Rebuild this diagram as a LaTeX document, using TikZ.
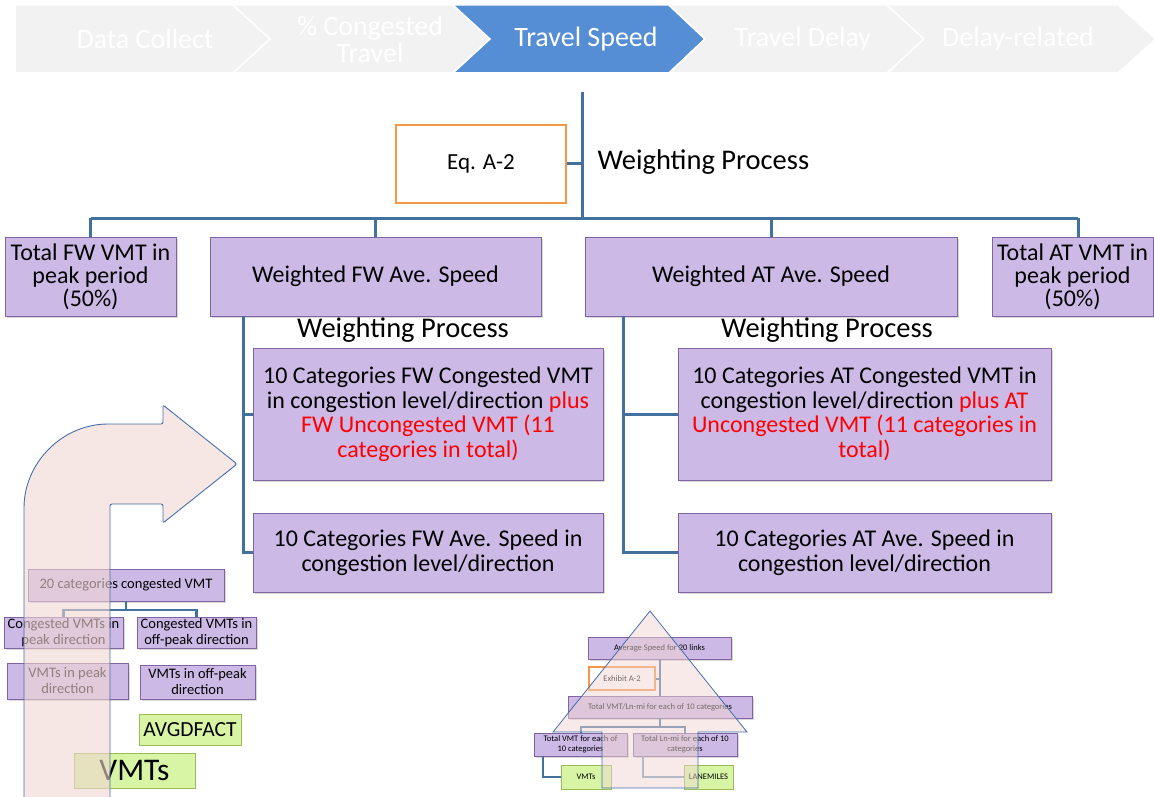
\documentclass[tikz,border=0pt]{standalone}
\usepackage{fontspec}
\setmainfont{Carlito}
\usetikzlibrary{shadows}
\definecolor{boxfill}{RGB}{204,185,230}
\definecolor{boxdraw}{RGB}{128,100,162}
\definecolor{lineblue}{RGB}{65,113,156}
\definecolor{chevgray}{RGB}{242,242,242}
\definecolor{chevblue}{RGB}{85,142,213}
\definecolor{orangeb}{RGB}{247,150,70}
\definecolor{greenfill}{RGB}{215,245,165}
\definecolor{greendraw}{RGB}{155,187,89}
\definecolor{arrowfill}{RGB}{240,214,210}
\definecolor{arrowline}{RGB}{70,110,170}
\tikzset{
  pbox/.style={draw=boxdraw, fill=boxfill, line width=0.8pt, align=center, inner sep=0pt,
    drop shadow={shadow xshift=1.5pt, shadow yshift=-1.5pt, opacity=0.3}},
  bigtxt/.style={font=\fontsize{24}{24.5}\selectfont},
  smalltxt/.style={font=\fontsize{14.5}{16}\selectfont},
  tinytxt/.style={font=\fontsize{8.5}{9.5}\selectfont},
  gbox/.style={draw=greendraw, fill=greenfill, line width=0.8pt, align=center, inner sep=0pt,
    drop shadow={shadow xshift=1pt, shadow yshift=-1pt, opacity=0.25}},
  obox/.style={draw=orangeb, fill=white, line width=2.5pt, align=center, inner sep=0pt},
  conn/.style={draw=lineblue, line width=3pt},
  sconn/.style={draw=lineblue, line width=2.5pt},
  tconn/.style={draw=lineblue, line width=2pt},
  chev/.style={fill=chevgray, draw=white, line width=1.5pt},
  chevtxt/.style={text=white, font=\fontsize{28}{27}\selectfont, align=center},
  wptxt/.style={font=\fontsize{28.5}{30}\selectfont},
  bigarrow/.style={fill=arrowfill, fill opacity=0.6, draw=none},
  arrowedge/.style={draw=arrowline, line width=0.9pt}
}
\begin{document}
\begin{tikzpicture}[x=1pt,y=-1pt]
\useasboundingbox (0,0) rectangle (1154,797);
% ---------- chevrons ----------
\path[chev] (15,5) -- (233,5) -- (270,39) -- (233,73) -- (15,73) -- cycle;
\path[chev] (233,5) -- (453,5) -- (490,39) -- (453,73) -- (233,73) -- (270,39) -- cycle;
\path[chev, fill=chevblue] (453,5) -- (669,5) -- (705,39) -- (669,73) -- (453,73) -- (490,39) -- cycle;
\path[chev] (669,5) -- (887,5) -- (924,39) -- (887,73) -- (669,73) -- (705,39) -- cycle;
\path[chev] (887,5) -- (1118,5) -- (1156,39) -- (1118,73) -- (887,73) -- (924,39) -- cycle;
\node[chevtxt] (ch1) at (145,39) {Data Collect};
\node[chevtxt] (ch2) at (370,39) {\% Congested\\Travel};
\node[chevtxt] (ch3) at (586,39) {Travel Speed};
\node[chevtxt] (ch4) at (803,39) {Travel Delay};
\node[chevtxt] (ch5) at (1018,39) {Delay-related};
% ---------- top level ----------
\coordinate (top) at (582,92);
\coordinate (hub) at (582,218);
\node[obox, minimum width=170pt, minimum height=78pt, font=\fontsize{23}{25}\selectfont] (eq) at (481,164) {Eq. A-2};
\node[wptxt, anchor=west] (wp0) at (594,162) {Weighting Process};
\draw[conn] (top) -- (hub);
\draw[conn] (eq.east) -- (eq.east -| top);
% ---------- row 2 ----------
\node[pbox, bigtxt, font=\fontsize{24}{23}\selectfont, minimum width=171pt, minimum height=79pt] (tfw) at (90.5,276.5) {Total FW VMT in\\peak period\\(50\%)};
\node[pbox, bigtxt, minimum width=331pt, minimum height=79pt] (wfw) at (375.5,276.5) {Weighted FW Ave. Speed};
\node[pbox, bigtxt, minimum width=372pt, minimum height=79pt] (wat) at (771,276.5) {Weighted AT Ave. Speed};
\node[pbox, bigtxt, font=\fontsize{24}{23}\selectfont, minimum width=161pt, minimum height=79pt] (tat) at (1072.5,276.5) {Total AT VMT in\\peak period\\(50\%)};
\draw[conn] (tfw.north |- hub) -- (1078,218);
\draw[conn] (tfw.north) -- (tfw.north |- hub);
\draw[conn] (wfw.north) -- (wfw.north |- hub);
\draw[conn] (wat.north) -- (wat.north |- hub);
\draw[conn] (1078,237) -- (1078,218);
% ---------- row 3 ----------
\node[wptxt] (wp1) at (403,330) {Weighting Process};
\node[wptxt] (wp2) at (827,330) {Weighting Process};
\node[pbox, bigtxt, minimum width=350pt, minimum height=132pt] (c1) at (428,414)
  {10 Categories FW Congested VMT\\in congestion level/direction \textcolor{red}{plus}\\\textcolor{red}{FW Uncongested VMT (11}\\\textcolor{red}{categories in total)}};
\node[pbox, bigtxt, minimum width=350pt, minimum height=79pt] (c2) at (428,552.5)
  {10 Categories FW Ave. Speed in\\congestion level/direction};
\node[pbox, bigtxt, minimum width=373pt, minimum height=132pt] (a1) at (864.5,414)
  {10 Categories AT Congested VMT in\\congestion level/direction \textcolor{red}{plus AT}\\\textcolor{red}{Uncongested VMT (11 categories in}\\\textcolor{red}{total)}};
\node[pbox, bigtxt, minimum width=373pt, minimum height=79pt] (a2) at (864.5,552.5)
  {10 Categories AT Ave. Speed in\\congestion level/direction};
\coordinate (fws) at (243,316);
\coordinate (ats) at (623,316);
\draw[conn] (fws) |- (c2.west);
\draw[conn] (fws |- c1.west) -- (c1.west);
\draw[conn] (ats) |- (a2.west);
\draw[conn] (ats |- a1.west) -- (a1.west);
% ---------- bottom-left group ----------
\node[pbox, smalltxt, minimum width=196pt, minimum height=32pt] (s20) at (126,585) {20 categories congested VMT};
\node[pbox, smalltxt, minimum width=119pt, minimum height=31pt] (scp) at (63.5,632.5) {Congested VMTs in\\peak direction};
\node[pbox, smalltxt, minimum width=119pt, minimum height=31pt] (sco) at (196.5,632.5) {Congested VMTs in\\off-peak direction};
\node[pbox, smalltxt, minimum width=121pt, minimum height=36pt] (svp) at (67.5,681) {VMTs in peak\\direction};
\node[pbox, smalltxt, minimum width=115pt, minimum height=34pt] (svo) at (197.5,682) {VMTs in off-peak\\direction};
\node[gbox, font=\fontsize{21.5}{22}\selectfont, minimum width=102pt, minimum height=31pt] (avg) at (190,729.5) {AVGDFACT};
\node[gbox, font=\fontsize{31.5}{32}\selectfont, minimum width=121pt, minimum height=35pt] (vmts) at (134.5,770.5) {VMTs};
\coordinate (sj) at (126,610);
\draw[sconn] (s20.south) -- (sj);
\draw[sconn] (scp.north) |- (sj);
\draw[sconn] (sco.north) |- (sj);
% bent arrow
\path[bigarrow] (24,797) -- (24,510) .. controls (24,462.5) and (62.5,424) .. (110,424)
  -- (163,424) -- (163,405) -- (237,464) -- (163,523) -- (163,504) -- (110,504) -- (110,797) -- cycle;
\draw[arrowedge, rounded corners=2pt] (24,797) -- (24,510) .. controls (24,462.5) and (62.5,424) .. (110,424)
  -- (163,424) -- (163,405) -- (237,464) -- (163,523) -- (163,504) -- (110,504) -- (110,797);
% ---------- bottom-middle pyramid ----------
\node[pbox, tinytxt, minimum width=143pt, minimum height=22pt] (avs) at (659.5,648) {Average Speed for 20 links};
\node[obox, tinytxt, line width=2pt, minimum width=66pt, minimum height=23pt] (exh) at (622,678.5) {Exhibit A-2};
\node[pbox, tinytxt, minimum width=184pt, minimum height=22pt] (tvl) at (660,707) {Total VMT/Ln-mi for each of 10 categories};
\node[pbox, tinytxt, minimum width=93pt, minimum height=23pt] (tvm) at (580.5,744.5) {Total VMT for each of\\10 categories};
\node[pbox, tinytxt, minimum width=104pt, minimum height=23pt] (tln) at (685,744.5) {Total Ln-mi for each of 10\\categories};
\node[gbox, tinytxt, minimum width=50pt, minimum height=24pt] (gvm) at (586,777) {VMTs};
\node[gbox, tinytxt, minimum width=49pt, minimum height=24pt] (glm) at (708.5,777) {LANEMILES};
\coordinate (pj) at (660,727);
\draw[tconn] (660,659) -- (tvl.north);
\draw[tconn] (exh.east) -- (exh.east -| pj);
\draw[tconn] (tvl.south) -- (pj);
\draw[tconn] (tvm.north) |- (pj);
\draw[tconn] (tln.north) |- (pj);
\draw[tconn, line width=2.5pt] (543,756) |- (gvm.west);
\draw[tconn, draw=lineblue!70] (643,756) |- (glm.west);
\path[bigarrow, fill opacity=0.5] (650,611) -- (747,732) -- (698,732) -- (698,788) -- (602,788) -- (602,732) -- (553,732) -- cycle;
\draw[arrowedge, line width=0.8pt] (650,611) -- (747,732) -- (698,732) -- (698,788) -- (602,788) -- (602,732) -- (553,732) -- cycle;
\end{tikzpicture}
\end{document}
